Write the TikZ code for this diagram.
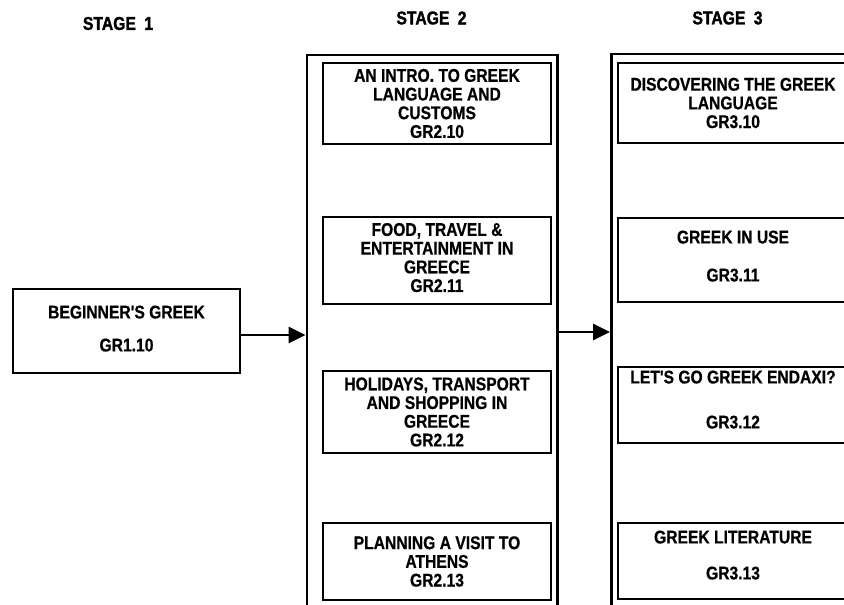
\documentclass[tikz,border=0pt]{standalone}
\usepackage{fontspec}
\setmainfont{Liberation Sans}[FakeStretch=0.85]
\newfontfamily\stagefont{Liberation Sans}[FakeStretch=0.85, FakeBold=1.5]
\newfontfamily\coursefont{Liberation Sans}[FakeStretch=0.85, FakeBold=0.6]
\usetikzlibrary{arrows.meta}
\tikzset{
    x={1pt},
    y={-1pt},
    stage label/.style={
        font={\fontsize{18.5}{20}\selectfont\stagefont\bfseries},
        inner sep=0pt,
    },
    stage frame/.style={
        draw,
        line width={2.8pt},
        inner sep=0pt,
    },
    course box/.style 2 args={
        draw,
        line width={1.9pt},
        align=center,
        inner sep=0pt,
        font={\fontsize{18.4}{18.7}\selectfont\coursefont\bfseries},
        minimum width={#1},
        minimum height={#2},
    },
    progression/.style={
        line width={2.8pt},
        -{Triangle[length=17pt,width=16pt]},
    },
}

\begin{document}
\begin{tikzpicture}
\useasboundingbox (0,0) rectangle (844,605);
\clip (0,0) rectangle (844,605);
% stage labels
\node[stage label] (stage1) at (118,23.5) {STAGE\hspace{4pt} 1};
\node[stage label] (stage2) at (431.5,18) {STAGE\hspace{4pt} 2};
\node[stage label] (stage3) at (727.5,18) {STAGE\hspace{4pt} 3};
% stage frames
\node[stage frame, minimum width={250.5}, minimum height={560}] (frame2) at (432.25,335) {};
\node[stage frame, minimum width={244}, minimum height={556}] (frame3) at (733.5,332) {};
% stage 1
\node[course box={227}{84}, text depth=5pt] (gr110) at (126.5,331) {BEGINNER'S GREEK\\[14.3pt]GR1.10};
% stage 2
\node[course box={228}{81}] (gr210) at (437,103.5) {AN INTRO. TO GREEK\\LANGUAGE AND\\CUSTOMS\\GR2.10};
\node[course box={228}{87}, text depth=6pt] (gr211) at (437,260.5) {FOOD, TRAVEL \&\\ENTERTAINMENT IN\\GREECE\\GR2.11};
\node[course box={228}{82}] (gr212) at (437,412) {HOLIDAYS, TRANSPORT\\AND SHOPPING IN\\GREECE\\GR2.12};
\node[course box={228}{77}] (gr213) at (437,561.5) {PLANNING A VISIT TO\\ATHENS\\GR2.13};
% stage 3
\node[course box={230}{80}] (gr310) at (733,103) {DISCOVERING THE GREEK\\LANGUAGE\\GR3.10};
\node[course box={230}{84}, text depth=8pt] (gr311) at (733,260) {GREEK IN USE\\[19.3pt]GR3.11};
\node[course box={230}{76}, text depth=11pt] (gr312) at (733,405) {LET'S GO GREEK ENDAXI?\\[26.3pt]GR3.12};
\node[course box={230}{76}, text depth=12pt] (gr313) at (733,561) {GREEK LITERATURE\\[17.3pt]GR3.13};
% progression
\draw[progression] (gr110.east |- frame2.west) -- (frame2.west);
\draw[progression] (frame2.east |- frame3.west) -- (frame3.west);
\end{tikzpicture}
\end{document}
